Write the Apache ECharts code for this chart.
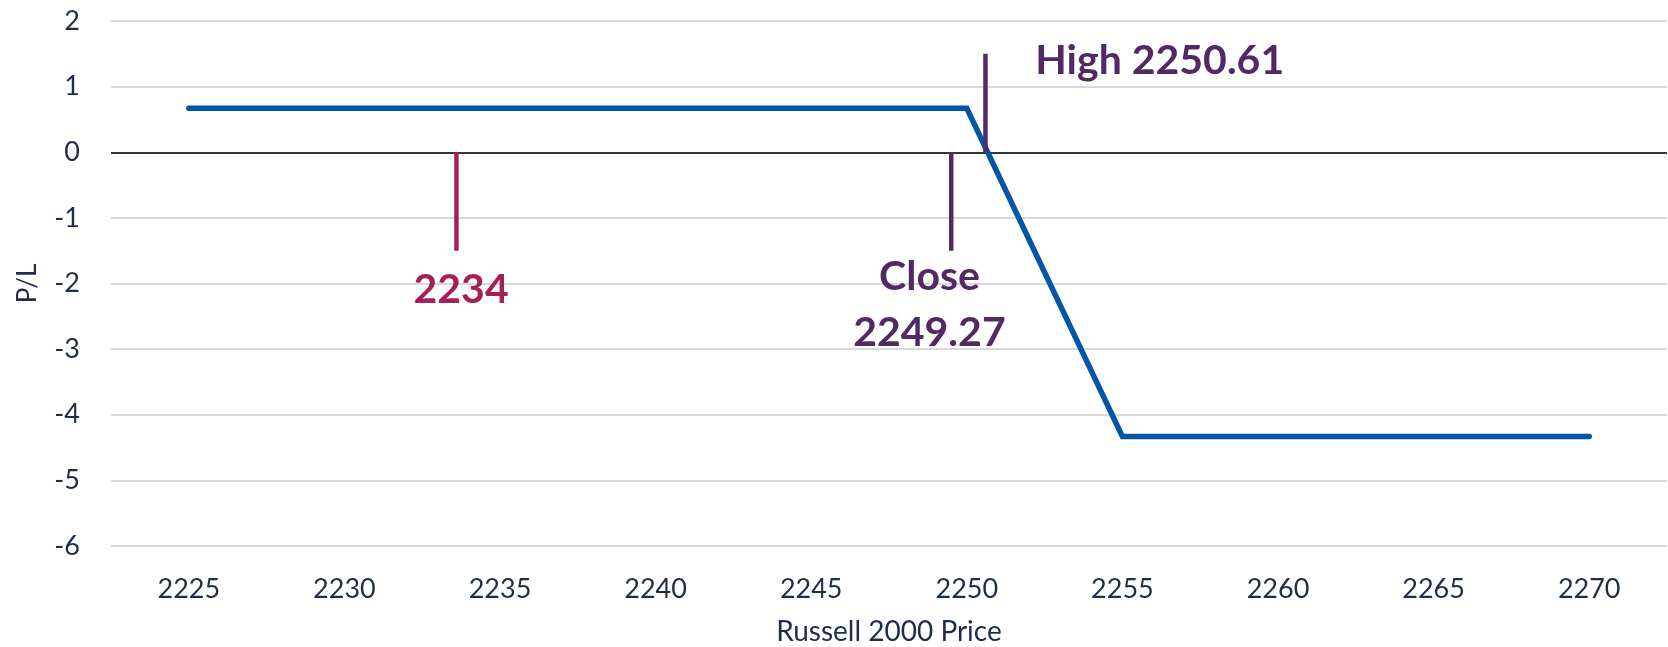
<!DOCTYPE html>
<html>
<head>
<meta charset="utf-8">
<script src="https://cdn.jsdelivr.net/npm/echarts@6/dist/echarts.min.js"></script>
<style>
html,body{margin:0;padding:0;background:#fff;}
#chart{width:1668px;height:647px;}
</style>
</head>
<body>
<div id="chart"></div>
<script>
// ---- data ----
const xTicks = [2225, 2230, 2235, 2240, 2245, 2250, 2255, 2260, 2265, 2270];
const plPrice = [2225, 2250, 2255, 2270];
const plValue = [0.67, 0.67, -4.33, -4.33];
const yTicks = [-6, -5, -4, -3, -2, -1, 0, 1, 2];

const markerPrice = [2233.6, 2249.5, 2250.6];
const markerFrom = [0, 0, 0];
const markerTo = [-1.5, -1.5, 1.5];

const noteText = ['2234', 'Close\n2249.27', 'High 2250.61'];
const notePrice = [2233.75, 2248.8, 2256.2];
const noteValue = [-2.09, -2.32, 1.4];

// ---- styles ----
const markerColors = ['#A61F58', '#512965', '#512965'];
const FONT = 'Lato';
const txt = '#1F2C4C';

const chart = echarts.init(document.getElementById('chart'));

const series = [{
  type: 'line',
  data: plPrice.map((p, i) => [p, plValue[i]]),
  symbol: 'none',
  lineStyle: { color: '#0455A3', width: 5.5, cap: 'round', join: 'miter' },
  z: 3,
  markLine: {
    silent: true,
    symbol: 'none',
    label: { show: false },
    lineStyle: { color: '#000', width: 1.6, type: 'solid' },
    data: [{ yAxis: 0 }],
    z: 2
  }
}];

markerPrice.forEach((p, i) => {
  series.push({
    type: 'line',
    data: [[p, markerFrom[i]], [p, markerTo[i]]],
    symbol: 'none',
    lineStyle: { color: markerColors[i], width: 4.5 },
    z: 4
  });
});

series.push({
  type: 'scatter',
  symbolSize: 0,
  z: 5,
  itemStyle: { opacity: 1 },
  data: noteText.map((t, i) => ({
    value: [notePrice[i], noteValue[i]],
    name: t,
    label: { color: markerColors[i] }
  })),
  label: {
    show: true,
    position: 'inside',
    opacity: 1,
    formatter: p => p.name,
    fontFamily: FONT,
    fontWeight: 'bold',
    fontSize: 41,
    lineHeight: 56,
    align: 'center',
    verticalAlign: 'middle'
  }
});

chart.setOption({
  animation: false,
  backgroundColor: '#fff',
  grid: { left: 111, right: 1, top: 21, bottom: 101, containLabel: false, outerBoundsMode: 'none' },
  xAxis: {
    type: 'value',
    min: 2222.5,
    max: 2272.5,
    interval: 2.5,
    name: 'Russell 2000 Price',
    nameLocation: 'middle',
    nameGap: 72,
    nameTextStyle: { fontFamily: FONT, fontSize: 28, color: txt },
    axisLine: { show: false },
    axisTick: { show: false },
    splitLine: { show: false },
    axisLabel: {
      fontFamily: FONT, fontSize: 27, color: txt, margin: 30,
      formatter: v => (xTicks.indexOf(Math.round(v * 100) / 100) >= 0 ? String(v) : '')
    }
  },
  yAxis: {
    type: 'value',
    min: yTicks[0],
    max: yTicks[yTicks.length - 1],
    interval: 1,
    name: 'P/L',
    nameLocation: 'middle',
    nameRotate: 90,
    nameGap: 70,
    nameTextStyle: { fontFamily: FONT, fontSize: 26, color: txt },
    axisLine: { show: false },
    axisTick: { show: false },
    splitLine: { show: true, lineStyle: { color: '#D9D9D9', width: 2 } },
    axisLabel: { fontFamily: FONT, fontSize: 27, color: txt, margin: 31 }
  },
  series: series
});
</script>
</body>
</html>
